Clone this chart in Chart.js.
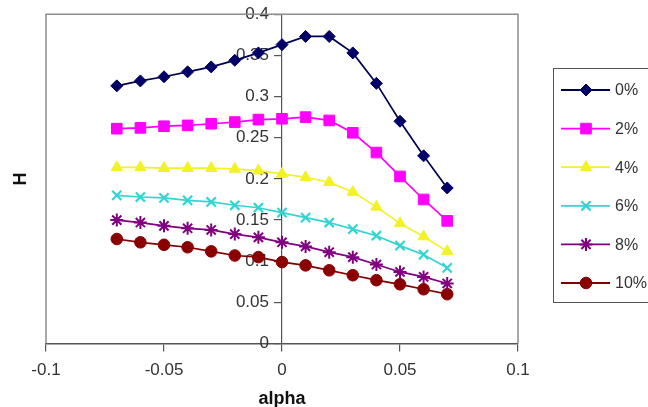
<!DOCTYPE html>
<html>
<head>
<meta charset="utf-8">
<script src="https://cdn.jsdelivr.net/npm/chart.js@4/dist/chart.umd.min.js"></script>
<style>
  html, body { margin: 0; padding: 0; background: #fff; }
  #wrap { width: 648px; height: 407px; position: relative; }
</style>
</head>
<body>
<div id="wrap"><canvas id="c" width="648" height="407"></canvas></div>
<script>
// ---- data ----
const alphas = [-0.07, -0.06, -0.05, -0.04, -0.03, -0.02, -0.01, 0, 0.01, 0.02, 0.03, 0.04, 0.05, 0.06, 0.07];
const seriesNames = ['0%', '2%', '4%', '6%', '8%', '10%'];
const h0  = [0.313, 0.319, 0.324, 0.330, 0.336, 0.344, 0.353, 0.363, 0.373, 0.373, 0.353, 0.316, 0.270, 0.228, 0.189];
const h2  = [0.261, 0.262, 0.264, 0.265, 0.267, 0.269, 0.272, 0.273, 0.275, 0.271, 0.256, 0.232, 0.203, 0.175, 0.149];
const h4  = [0.214, 0.214, 0.213, 0.213, 0.213, 0.212, 0.210, 0.206, 0.202, 0.196, 0.184, 0.166, 0.146, 0.130, 0.112];
const h6  = [0.180, 0.178, 0.177, 0.174, 0.172, 0.168, 0.165, 0.159, 0.153, 0.147, 0.139, 0.131, 0.119, 0.108, 0.092];
const h8  = [0.150, 0.147, 0.143, 0.140, 0.138, 0.133, 0.129, 0.123, 0.118, 0.111, 0.105, 0.096, 0.087, 0.081, 0.073];
const h10 = [0.127, 0.123, 0.120, 0.117, 0.112, 0.107, 0.105, 0.099, 0.095, 0.089, 0.083, 0.077, 0.072, 0.066, 0.060];
const xTicks = [-0.1, -0.05, 0, 0.05, 0.1];
const yTicks = [0, 0.05, 0.1, 0.15, 0.2, 0.25, 0.3, 0.35, 0.4];
const xTitle = 'alpha';
const yTitle = 'H';

const allSeries = [h0, h2, h4, h6, h8, h10];
const styles = [
  { line: '#000050', fill: '#000066', point: 'rectRot', r: 6,   bw: 1 },
  { line: '#ff00ff', fill: '#ff00ff', point: 'rect',    r: 7.5, bw: 1 },
  { line: '#f2f224', fill: '#f2f224', point: 'triangle',r: 6.5, bw: 1 },
  { line: '#33d4d4', fill: '#33d4d4', point: 'crossRot',r: 6.5, bw: 2.2 },
  { line: '#800080', fill: '#800080', point: 'star',    r: 6.5, bw: 2 },
  { line: '#800000', fill: '#8a0000', point: 'circle',  r: 5.8, bw: 1 }
];

const datasets = allSeries.map((vals, i) => ({
  label: seriesNames[i],
  data: vals.map((v, j) => ({ x: alphas[j], y: v })),
  borderColor: styles[i].line,
  backgroundColor: styles[i].fill,
  pointBackgroundColor: styles[i].fill,
  pointBorderColor: styles[i].fill,
  pointStyle: styles[i].point,
  pointRadius: styles[i].r,
  pointBorderWidth: styles[i].bw,
  borderWidth: 1.7,
  tension: 0,
  fill: false
}));

const fmt = v => String(Number(Number(v).toFixed(2)));
const Y_LABEL_GAP = 13;

const decor = {
  id: 'decor',
  beforeDraw(chart) {
    // push the y tick labels left of the tick marks (axis sits at x = 0)
    const s = chart.scales.y;
    if (s && s.getLabelItems) {
      const items = s.getLabelItems(chart.chartArea);
      items.forEach(it => {
        if (it.options && it.options.translation && !it._shifted) {
          it.options.translation[0] -= Y_LABEL_GAP;
          it._shifted = true;
        }
      });
    }
  },
  beforeDatasetsDraw(chart) {
    const { ctx, chartArea: a } = chart;
    ctx.save();
    ctx.strokeStyle = '#8c8c8c';
    ctx.lineWidth = 1.5;
    ctx.beginPath();
    ctx.moveTo(a.left, a.bottom);
    ctx.lineTo(a.left, a.top);
    ctx.lineTo(a.right, a.top);
    ctx.lineTo(a.right, a.bottom);
    ctx.stroke();
    ctx.restore();
  },
  afterDraw(chart) {
    const { ctx, chartArea: a } = chart;
    ctx.save();
    ctx.fillStyle = '#111';
    ctx.font = 'bold 18px "Liberation Sans", Arial, sans-serif';
    ctx.textAlign = 'center';
    ctx.textBaseline = 'middle';
    ctx.translate(21, (a.top + a.bottom) / 2);
    ctx.rotate(-Math.PI / 2);
    ctx.fillText(yTitle, 0, 0);
    ctx.restore();

    // legend
    const lx = a.right + 35, ly = 68, lh = 234;
    ctx.save();
    ctx.strokeStyle = '#555';
    ctx.lineWidth = 1;
    ctx.strokeRect(lx + 0.5, ly + 0.5, 120, lh);
    const ds = chart.data.datasets;
    const step = 38.6;
    ds.forEach((d, i) => {
      const y = ly + 22 + i * step;
      ctx.strokeStyle = d.borderColor;
      ctx.lineWidth = 1.8;
      ctx.beginPath();
      ctx.moveTo(lx + 8, y);
      ctx.lineTo(lx + 57, y);
      ctx.stroke();
      ctx.fillStyle = d.pointBackgroundColor;
      ctx.strokeStyle = d.pointBorderColor;
      ctx.lineWidth = d.pointBorderWidth;
      Chart.helpers.drawPoint(ctx, { pointStyle: d.pointStyle, radius: d.pointRadius, borderWidth: d.pointBorderWidth, rotation: 0 }, lx + 33, y);
      ctx.fillStyle = '#333';
      ctx.font = '16px "Liberation Sans", Arial, sans-serif';
      ctx.textAlign = 'left';
      ctx.textBaseline = 'middle';
      ctx.fillText(d.label, lx + 62, y + 1);
    });
    ctx.restore();
  }
};

new Chart(document.getElementById('c'), {
  type: 'line',
  data: { datasets },
  options: {
    responsive: false,
    animation: false,
    devicePixelRatio: 1,
    layout: { padding: { left: 46, right: 130, top: 13, bottom: -1 } },
    plugins: { legend: { display: false }, tooltip: { enabled: false } },
    scales: {
      x: {
        type: 'linear',
        position: 'bottom',
        min: -0.1, max: 0.1,
        afterBuildTicks: s => { s.ticks = xTicks.map(v => ({ value: v })); },
        ticks: {
          callback: v => fmt(v),
          color: '#333',
          font: { family: '"Liberation Sans", Arial, sans-serif', size: 17 },
          padding: 9,
          maxRotation: 0
        },
        grid: { display: true, drawOnChartArea: false, drawTicks: true, tickLength: 8, color: '#555', lineWidth: 1.2 },
        border: { display: true, color: '#555', width: 1.5 },
        title: {
          display: true, text: xTitle, color: '#111',
          font: { family: '"Liberation Sans", Arial, sans-serif', size: 18, weight: 'bold', lineHeight: 1.0 },
          padding: { top: 0, bottom: 0 }
        }
      },
      y: {
        type: 'linear',
        position: { x: 0 },
        min: 0, max: 0.4,
        afterBuildTicks: s => { s.ticks = yTicks.map(v => ({ value: v })); },
        ticks: {
          callback: v => fmt(v),
          color: '#333',
          font: { family: '"Liberation Sans", Arial, sans-serif', size: 17 },
          padding: 4
        },
        grid: { display: true, drawOnChartArea: false, drawTicks: true, tickLength: 7, color: '#555', lineWidth: 1.2 },
        border: { display: true, color: '#555', width: 1.2 }
      }
    }
  },
  plugins: [decor]
});
</script>
</body>
</html>
